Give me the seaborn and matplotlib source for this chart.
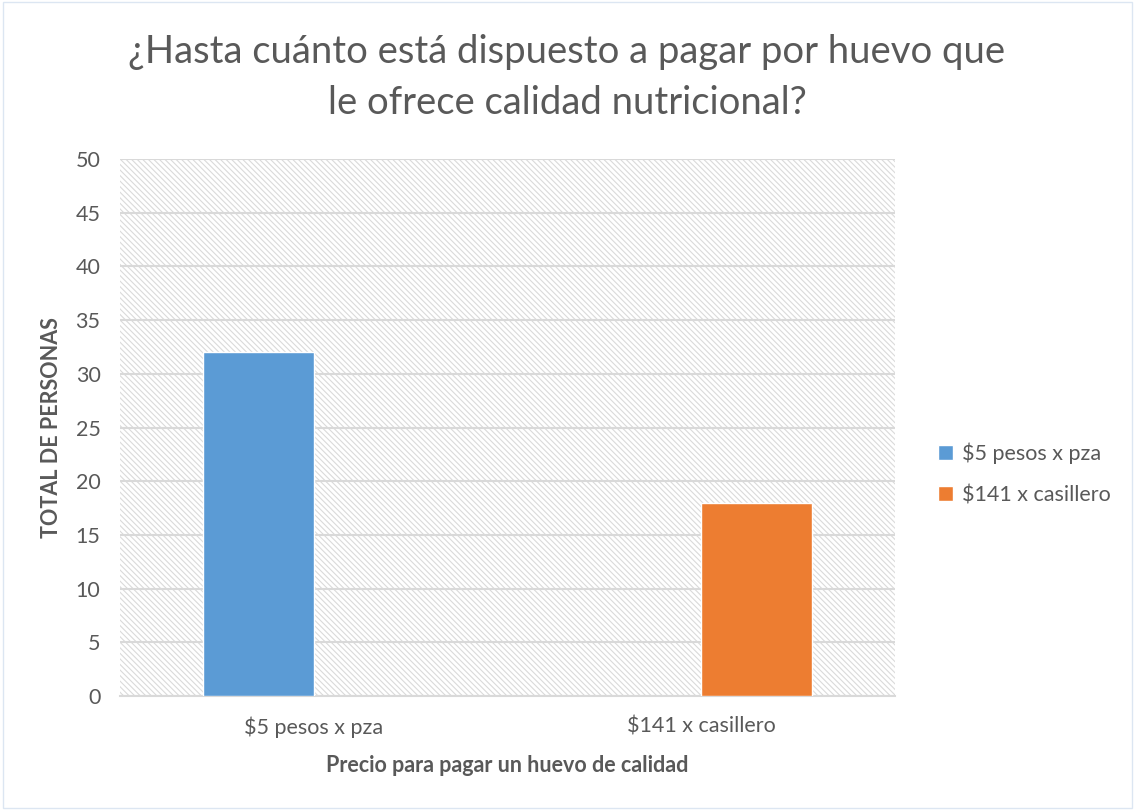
import matplotlib
matplotlib.use('Agg')
import matplotlib.pyplot as plt
import seaborn as sns
import pandas as pd
from matplotlib.patches import Rectangle

# data
categorias = ['$5 pesos x pza', '$141 x casillero']
series = ['$5 pesos x pza', '$141 x casillero']
personas = [32, 18]
colores = ['#5B9BD5', '#ED7D31']
y_ticks = [0, 5, 10, 15, 20, 25, 30, 35, 40, 45, 50]

df = pd.DataFrame({'precio': categorias, 'serie': series, 'total': personas})

sns.set_theme(style='white')
plt.rcParams['font.family'] = ['Lato', 'DejaVu Sans']
plt.rcParams['hatch.linewidth'] = 0.8
gris = '#595959'

fig = plt.figure(figsize=(11.34, 8.10), dpi=100)
ax = fig.add_axes([0.1058, 0.1407, 0.6834, 0.663])

# hatched plot background
ax.add_patch(Rectangle((0, 0), 1, 1, transform=ax.transAxes, facecolor='white',
                       edgecolor='#dadada', hatch='\\' * 6, lw=0, zorder=0))

sns.barplot(data=df, x='precio', y='total', hue='serie', order=categorias,
            hue_order=series, palette=colores, width=0.573, dodge=True,
            saturation=1, legend=True, ax=ax, zorder=3)

ax.set_xlim(-0.5, 1.5)
ax.set_ylim(0, 50)
ax.set_yticks(y_ticks)
ax.yaxis.grid(True, color='#d9d9d9', lw=1.5, zorder=1)
ax.set_axisbelow(True)
for s in ['top', 'left', 'right']:
    ax.spines[s].set_visible(False)
ax.spines['bottom'].set_color('#d9d9d9')
ax.spines['bottom'].set_linewidth(1.5)
ax.tick_params(axis='both', length=0, labelsize=15.5, labelcolor=gris)
ax.tick_params(axis='x', pad=15)
ax.tick_params(axis='y', pad=14)

ax.set_xlabel('Precio para pagar un huevo de calidad', fontsize=15.5, fontweight='bold',
              color=gris, labelpad=12)
ax.set_ylabel('TOTAL DE PERSONAS', fontsize=15.5, fontweight='bold', color=gris, labelpad=10)

fig.text(0.5, 0.958, '¿Hasta cuánto está dispuesto a pagar por huevo que\nle ofrece calidad nutricional?',
         ha='center', va='top', fontsize=27.5, color=gris, linespacing=1.5)

h, l = ax.get_legend_handles_labels()
ax.get_legend().remove()
fig.legend(h, l, loc='center left', bbox_to_anchor=(0.81, 0.415), frameon=False,
           fontsize=15.5, labelcolor=gris, handlelength=0.7, handleheight=0.7,
           handletextpad=0.4, labelspacing=1.0)

# faint outer border
fig.add_artist(Rectangle((0.003, 0.002), 0.995, 0.995, transform=fig.transFigure,
                         fill=False, edgecolor='#dce6f2', lw=1))

fig.savefig('out.png', dpi=100)
